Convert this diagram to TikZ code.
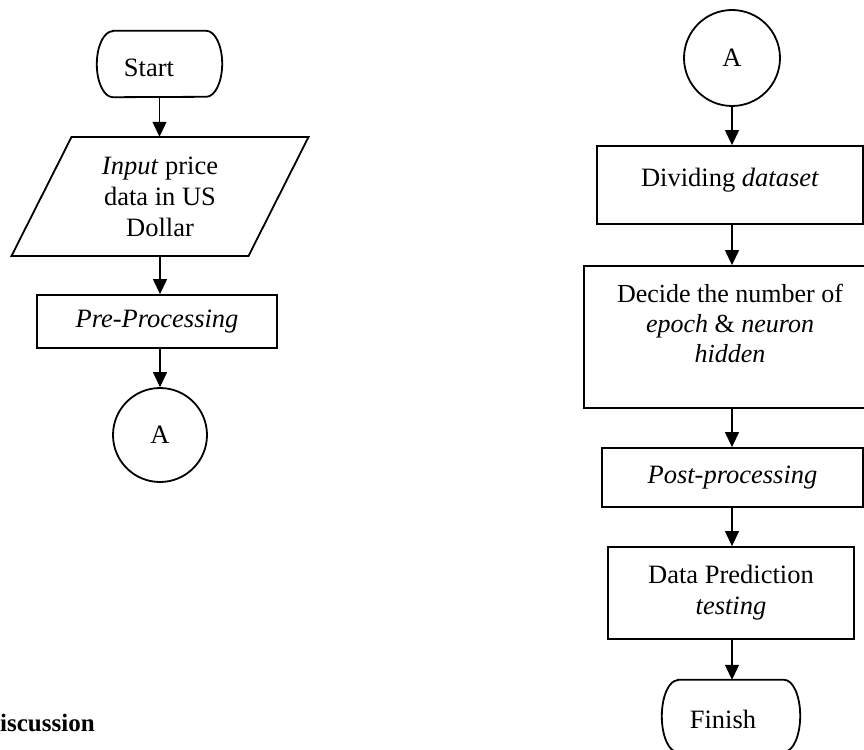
\documentclass[tikz,border=0pt]{standalone}
\usepackage{fontspec}
\setmainfont{Liberation Serif}
\usetikzlibrary{arrows.meta,calc}
\newcommand{\fs}{\fontsize{26.5}{31}\selectfont}
\newcommand{\dep}[1]{\rule[-#1]{0pt}{#1}}
\newcommand{\termshape}[2]{%
  \draw[line width=1.8pt] ($(#1.north west)+(16,0)$) -- ($(#1.north east)+(-16,0)$)
    arc[start angle=90,end angle=-90,x radius=16pt,y radius=#2]
    -- ($(#1.south west)+(16,0)$)
    arc[start angle=270,end angle=90,x radius=16pt,y radius=#2] -- cycle;}
\tikzset{
  box/.style={draw, line width=1.8pt, inner sep=0pt, align=center, font=\fs},
  plain/.style={inner sep=0pt, align=center, font=\fs},
  conn/.style={draw, circle, line width=1.8pt, inner sep=0pt, font=\fs},
  flow/.style={line width=1.2pt, -{Triangle[length=15pt,width=14pt]}},
}
\begin{document}
\begin{tikzpicture}[x=1pt,y=-1pt]
\useasboundingbox (0,0) rectangle (864,749);
\clip (0,0) rectangle (864,749);
\fill[white] (0,0) rectangle (864,749);
% left column
\node[plain, minimum width=125, minimum height=66] (start) at (159.5,64) {\rule{0pt}{25.5pt}Start\kern21pt};
\termshape{start}{33pt}
\node[plain, minimum width=176, minimum height=119] (inp) at (160,196.5)
  {\textit{Input} price\\data in US\\Dollar};
\draw[line width=1.8pt] ($(inp.center)+(-88.5,-59.5)$) -- ($(inp.center)+(148.5,-59.5)$)
  -- ($(inp.center)+(88.5,59.5)$) -- ($(inp.center)+(-148.5,59.5)$) -- cycle;
\node[box, minimum width=240, minimum height=53] (pre) at (157,321.5) {\textit{Pre-Processing}};
\node[conn, minimum size=94] (aL) at (160,435) {A};
% right column
\node[conn, minimum size=96] (aR) at (732,58) {A};
\node[box, minimum width=266, minimum height=78] (div) at (730,185) {Dividing \textit{dataset}\dep{16pt}};
\node[box, minimum width=292, minimum height=142, font=\fontsize{26}{30}\selectfont] (dec) at (730,337)
  {Decide the number of\\\textit{epoch} \& \textit{neuron}\\\textit{hidden}\dep{28pt}};
\node[box, minimum width=261, minimum height=59] (post) at (732.5,477.5) {\textit{Post-processing}};
\node[box, minimum width=246, minimum height=92] (dat) at (731,593) {Data Prediction\\\textit{testing}};
\node[plain, minimum width=138, minimum height=72] (fin) at (731,716) {\rule{0pt}{25.5pt}Finish\kern16pt};
\termshape{fin}{36pt}
\node[inner sep=0pt, anchor=base west, font=\fontsize{25}{30}\selectfont\bfseries] (disc) at (0,731) {iscussion};
% connectors
\draw[flow] (start.south) -- (start.south |- inp.north);
\draw[flow] (inp.south) -- (inp.south |- pre.north);
\draw[flow] (aL.north |- pre.south) -- (aL.north);
\draw[flow] (aR.south) -- (aR.south |- div.north);
\draw[flow] (aR.south |- div.south) -- (aR.south |- dec.north);
\draw[flow] (aR.south |- dec.south) -- (aR.south |- post.north);
\draw[flow] (aR.south |- post.south) -- (aR.south |- dat.north);
\draw[flow] (aR.south |- dat.south) -- (aR.south |- fin.north);
\end{tikzpicture}
\end{document}
